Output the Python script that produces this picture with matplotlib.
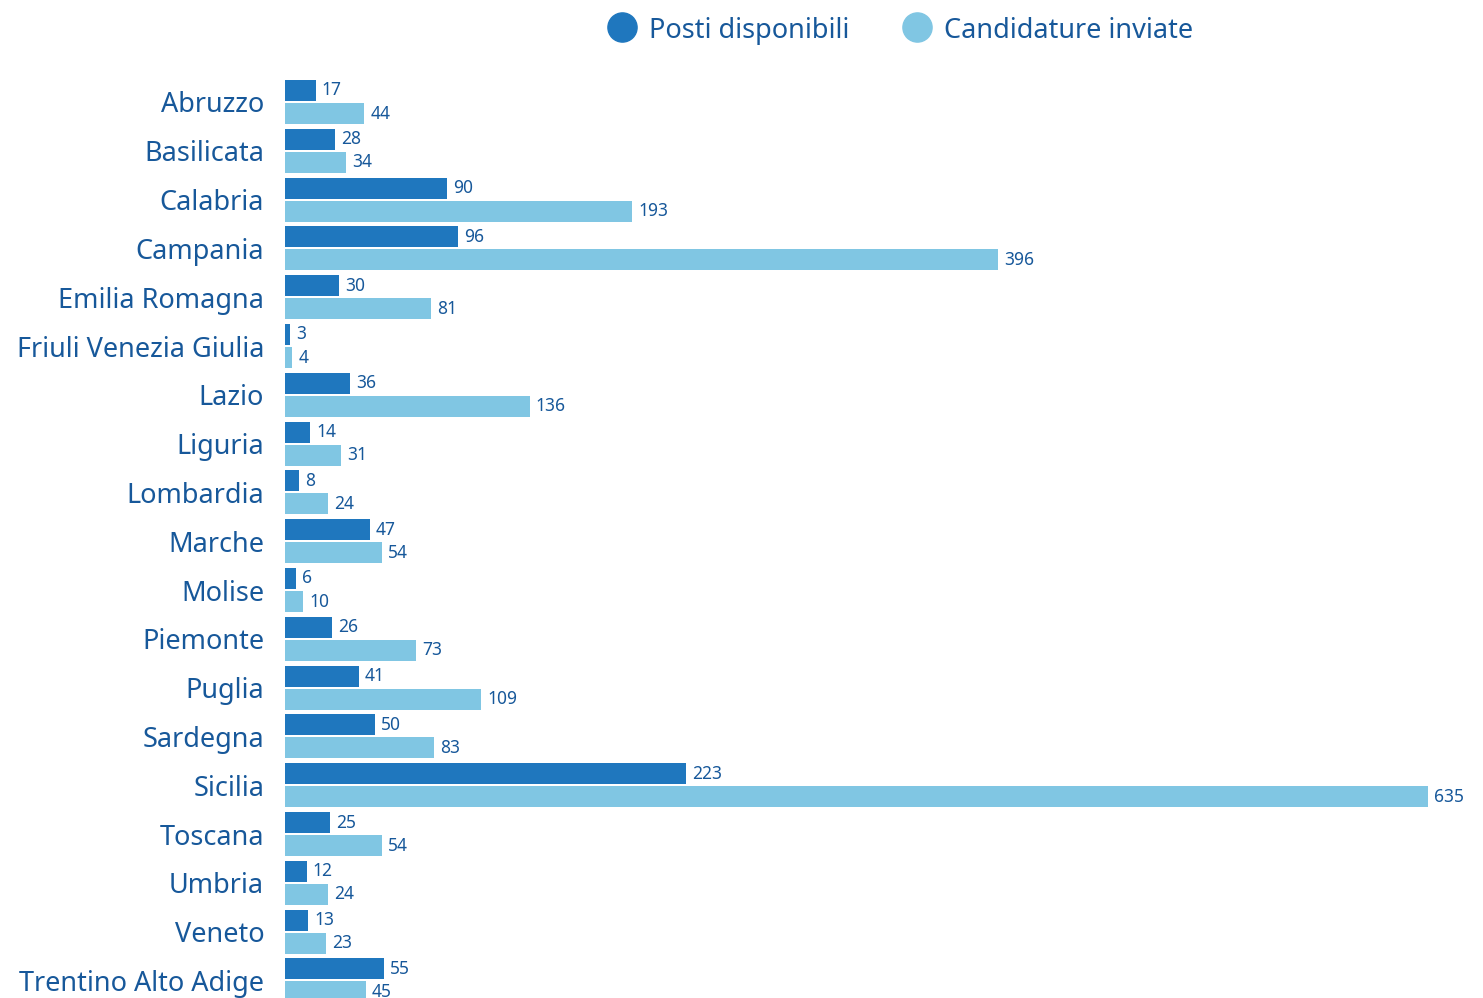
import matplotlib.pyplot as plt
import numpy as np

# dati
regioni = ['Abruzzo', 'Basilicata', 'Calabria', 'Campania', 'Emilia Romagna',
           'Friuli Venezia Giulia', 'Lazio', 'Liguria', 'Lombardia', 'Marche',
           'Molise', 'Piemonte', 'Puglia', 'Sardegna', 'Sicilia', 'Toscana',
           'Umbria', 'Veneto', 'Trentino Alto Adige']
posti = [17, 28, 90, 96, 30, 3, 36, 14, 8, 47, 6, 26, 41, 50, 223, 25, 12, 13, 55]
candidature = [44, 34, 193, 396, 81, 4, 136, 31, 24, 54, 10, 73, 109, 83, 635, 54, 24, 23, 45]

c_dark = '#1f77be'
c_light = '#80c6e3'
c_text = '#17589a'

plt.rcParams['font.family'] = ['Noto Sans', 'DejaVu Sans']

fig = plt.figure(figsize=(14.83, 9.98), dpi=100)
ax = fig.add_axes([285 / 1483, 0, 1 - 285 / 1483, 1])

y = np.arange(len(regioni))
h = 0.43
off = 0.236
ax.barh(y - off, posti, height=h, color=c_dark, label='Posti disponibili')
ax.barh(y + off, candidature, height=h, color=c_light, label='Candidature inviate')

for yi, v in zip(y, posti):
    ax.text(v + 3.3, yi - off, str(v), va='center', ha='left', fontsize=12.5, color=c_text)
for yi, v in zip(y, candidature):
    ax.text(v + 3.3, yi + off, str(v), va='center', ha='left', fontsize=12.5, color=c_text)

ax.set_yticks(y)
ax.set_yticklabels(regioni, fontsize=19.5, color=c_text)
ax.tick_params(axis='y', length=0, pad=15)
ax.set_xticks([])
ax.set_xlim(0, 665.6)
ax.set_ylim(18.36, -2.09)
for s in ax.spines.values():
    s.set_visible(False)

fig.legend(loc='upper left', bbox_to_anchor=(584 / 1483, 1.008), ncol=2, frameon=False,
           fontsize=19.5, labelcolor=c_text, handlelength=1.0, handleheight=1.0,
           handletextpad=0.5, columnspacing=2.0,
           handles=[plt.Line2D([], [], marker='o', ls='', ms=21, color=c_dark),
                    plt.Line2D([], [], marker='o', ls='', ms=21, color=c_light)],
           labels=['Posti disponibili', 'Candidature inviate'])

plt.savefig('out.png', dpi=100)
